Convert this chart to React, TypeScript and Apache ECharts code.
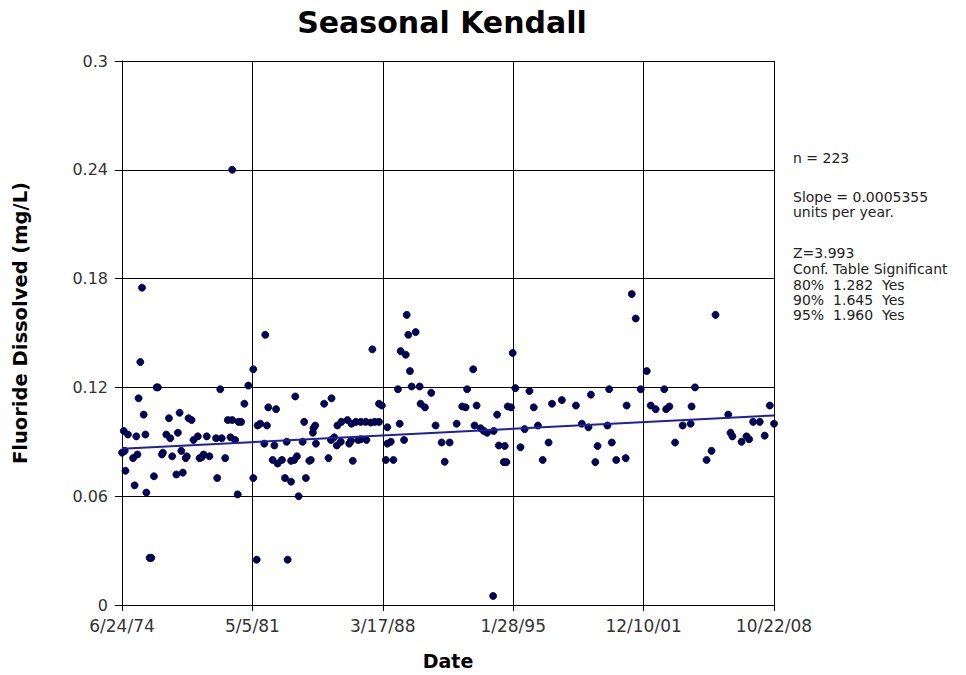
import React, { useEffect, useRef } from "react";
import * as echarts from "echarts";

// ---- Data ----
const sampleYears: number[] = [
  1980.28, 1975.53, 1975.44, 1976.37, 1976.30, 1979.65, 1975.35, 1975.62, 1977.51, 1976.95,
  1977.98, 1978.14, 1980.05, 1980.28, 1980.61, 1974.57, 1974.79, 1975.23, 1975.71, 1976.81,
  1977.02, 1977.42, 1978.24, 1978.47, 1978.94, 1979.43, 1979.73, 1980.19, 1980.43, 1974.48,
  1974.62, 1975.06, 1975.29, 1976.63, 1976.58, 1977.12, 1977.60, 1977.83, 1977.89, 1978.56,
  1978.77, 1979.08, 1978.68, 1979.91, 1974.66, 1976.16, 1977.34, 1977.68, 1979.49, 1975.14,
  1975.76, 1980.57, 1975.93, 1976.02,
  1982.02, 1981.39, 1981.13, 1980.92, 1980.75, 1982.18, 1982.59, 1983.60, 1985.12, 1985.51,
  1981.62, 1981.76, 1982.11, 1984.07, 1984.56, 1984.65, 1984.53, 1985.82, 1986.03, 1986.35,
  1986.56, 1986.79, 1981.97, 1982.50, 1983.15, 1983.99, 1984.69, 1985.48, 1985.65, 1985.79,
  1986.00, 1986.44, 1986.53, 1986.91, 1982.41, 1982.67, 1982.90, 1983.38, 1983.55, 1983.69,
  1984.34, 1984.42, 1985.35, 1986.63, 1981.39, 1983.06, 1983.38, 1984.16, 1983.78, 1981.57,
  1983.20,
  1989.47, 1989.55, 1989.94, 1987.66, 1989.15, 1989.42, 1989.64, 1992.97, 1989.01, 1989.73,
  1990.15, 1990.76, 1992.65, 1988.01, 1988.16, 1990.20, 1990.43, 1992.39, 1992.57, 1993.15,
  1987.05, 1987.31, 1987.58, 1987.79, 1988.01, 1988.45, 1989.10, 1990.99, 1992.10, 1993.04,
  1987.05, 1987.35, 1989.33, 1988.45, 1988.63, 1991.31, 1991.73, 1988.37, 1988.77, 1991.47,
  1995.05, 1995.19, 1995.93, 1999.17, 1994.79, 1994.96, 1996.16, 1997.12, 1997.64, 1998.38,
  1994.23, 1993.36, 1993.53, 1993.70, 1994.05, 1995.68, 1996.38, 1998.69, 1999.04, 1994.32,
  1994.63, 1995.46, 1996.94, 1999.52, 1994.58, 1994.72, 1996.63, 1999.40, 1994.02,
  2001.32, 2001.53, 2005.73, 2002.11, 2000.13, 2001.79, 2003.03, 2004.65, 2001.05, 2002.32,
  2002.58, 2003.13, 2003.30, 2004.47, 2000.04, 2004.00, 2004.42, 2000.27, 2003.60, 2000.50,
  2001.00, 2005.26, 2005.52,
  2006.40, 2008.59, 2008.81, 2007.71, 2008.06, 2006.52, 2006.62, 2007.10, 2007.36, 2007.50,
  2008.32,
];

const fluoride: number[] = [
  0.240, 0.175, 0.134, 0.120, 0.120, 0.119, 0.114, 0.105, 0.106, 0.103,
  0.103, 0.102, 0.102, 0.102, 0.101, 0.096, 0.094, 0.093, 0.094, 0.094,
  0.092, 0.095, 0.091, 0.093, 0.093, 0.092, 0.092, 0.0925, 0.091, 0.084,
  0.085, 0.081, 0.083, 0.084, 0.083, 0.082, 0.085, 0.081, 0.082, 0.081,
  0.083, 0.082, 0.0815, 0.081, 0.074, 0.071, 0.072, 0.073, 0.070, 0.066,
  0.062, 0.061, 0.026, 0.026,
  0.149, 0.130, 0.121, 0.111, 0.101, 0.109, 0.108, 0.115, 0.111, 0.114,
  0.099, 0.100, 0.099, 0.101, 0.0975, 0.099, 0.095, 0.099, 0.101, 0.102,
  0.100, 0.101, 0.089, 0.088, 0.090, 0.090, 0.089, 0.091, 0.0925, 0.088,
  0.090, 0.089, 0.0905, 0.091, 0.080, 0.078, 0.080, 0.0795, 0.080, 0.082,
  0.0795, 0.080, 0.081, 0.0795, 0.070, 0.070, 0.068, 0.070, 0.060, 0.025,
  0.025,
  0.160, 0.149, 0.1505, 0.141, 0.140, 0.138, 0.129, 0.130, 0.119, 0.1205,
  0.1205, 0.117, 0.119, 0.111, 0.110, 0.111, 0.109, 0.1095, 0.109, 0.110,
  0.101, 0.101, 0.1006, 0.101, 0.101, 0.098, 0.100, 0.099, 0.100, 0.099,
  0.0914, 0.091, 0.091, 0.089, 0.090, 0.0896, 0.0896, 0.080, 0.080, 0.079,
  0.139, 0.1196, 0.118, 0.116, 0.1095, 0.109, 0.109, 0.111, 0.113, 0.110,
  0.105, 0.0975, 0.096, 0.095, 0.096, 0.097, 0.099, 0.100, 0.098, 0.088,
  0.0877, 0.087, 0.0896, 0.0877, 0.0788, 0.0788, 0.080, 0.0788, 0.005,
  0.1715, 0.158, 0.160, 0.129, 0.119, 0.119, 0.119, 0.120, 0.110, 0.110,
  0.108, 0.108, 0.1095, 0.1095, 0.099, 0.099, 0.100, 0.0896, 0.0896, 0.080,
  0.081, 0.080, 0.085,
  0.105, 0.110, 0.100, 0.101, 0.101, 0.095, 0.093, 0.090, 0.093, 0.0914,
  0.0934,
];

const trendYears: number[] = [1974.477, 2008.81];
const trendValues: number[] = [0.0861, 0.1045];

const xTickLabels: string[] = ["6/24/74", "5/5/81", "3/17/88", "1/28/95", "12/10/01", "10/22/08"];
const yTickValues: number[] = [0, 0.06, 0.12, 0.18, 0.24, 0.3];

const annotationLines: string[] = [
  "n = 223",
  "Slope = 0.0005355",
  "units per year.",
  "Z=3.993",
  "Conf. Table Significant",
  "80%  1.282  Yes",
  "90%  1.645  Yes",
  "95%  1.960  Yes",
];

// axis: days since the first tick date
const START_YEAR = 1974.477;
const TICK_DAYS = 2508;
const toDays = (yr: number) => (yr - START_YEAR) * 365.25;

const FONT = "DejaVu Sans";

export default function App() {
  const ref = useRef<HTMLDivElement>(null);

  useEffect(() => {
    if (!ref.current) return;
    const chart = echarts.init(ref.current, undefined, { renderer: "svg" });

    const points = sampleYears.map((y, i) => [toDays(y), fluoride[i]]);
    const trend = trendYears.map((y, i) => [toDays(y), trendValues[i]]);

    const annoY = [158, 197, 212, 253, 269, 285, 300, 315];

    chart.setOption({
      animation: false,
      backgroundColor: "#ffffff",
      grid: { left: 122, right: 192, top: 61, bottom: 70 },
      xAxis: {
        type: "value",
        min: 0,
        max: TICK_DAYS * 5,
        interval: TICK_DAYS,
        axisLine: { show: true, onZero: false, lineStyle: { color: "#000", width: 1 } },
        axisTick: { show: true, length: 6, lineStyle: { color: "#000" } },
        splitLine: { show: true, lineStyle: { color: "#000", width: 1 } },
        axisLabel: {
          margin: 12,
          color: "#333",
          fontFamily: FONT,
          fontSize: 17,
          formatter: (v: number) => xTickLabels[Math.round(v / TICK_DAYS)] ?? "",
        },
      },
      yAxis: {
        type: "value",
        min: yTickValues[0],
        max: yTickValues[yTickValues.length - 1],
        interval: 0.06,
        axisLine: { show: true, lineStyle: { color: "#000", width: 1 } },
        axisTick: { show: true, length: 7, lineStyle: { color: "#000" } },
        splitLine: { show: true, lineStyle: { color: "#000", width: 1 } },
        axisLabel: {
          margin: 14,
          color: "#333",
          fontFamily: FONT,
          fontSize: 16,
          formatter: (v: number) => String(Math.round(v * 100) / 100),
        },
      },
      series: [
        {
          type: "scatter",
          data: points,
          symbol: "circle",
          symbolSize: 7,
          itemStyle: { color: "#000066", borderColor: "#000", borderWidth: 0.8, opacity: 1 },
          z: 3,
        },
        {
          type: "line",
          data: trend,
          symbol: "none",
          lineStyle: { color: "#1f1fa0", width: 2 },
          z: 4,
        },
      ],
      graphic: [
        {
          type: "text",
          x: 442,
          y: 22,
          style: {
            text: "Seasonal Kendall",
            font: `bold 30px '${FONT}'`,
            fill: "#000",
            align: "center",
            verticalAlign: "middle",
          },
        },
        {
          type: "text",
          x: 20,
          y: 323,
          rotation: Math.PI / 2,
          style: {
            text: "Fluoride Dissolved (mg/L)",
            font: `bold 19.5px '${FONT}'`,
            fill: "#000",
            align: "center",
            verticalAlign: "middle",
          },
        },
        {
          type: "text",
          x: 448,
          y: 661,
          style: {
            text: "Date",
            font: `bold 19px '${FONT}'`,
            fill: "#000",
            align: "center",
            verticalAlign: "middle",
          },
        },
        ...annotationLines.map((t, i) => ({
          type: "text",
          x: 793,
          y: annoY[i],
          style: {
            text: t,
            font: `14px '${FONT}'`,
            fill: "#222",
            align: "left",
            verticalAlign: "middle",
          },
        })),
      ],
    });

    return () => chart.dispose();
  }, []);

  return (
    <div
      ref={ref}
      style={{ position: "fixed", left: 0, top: 0, width: 966, height: 675, background: "#fff" }}
    />
  );
}
